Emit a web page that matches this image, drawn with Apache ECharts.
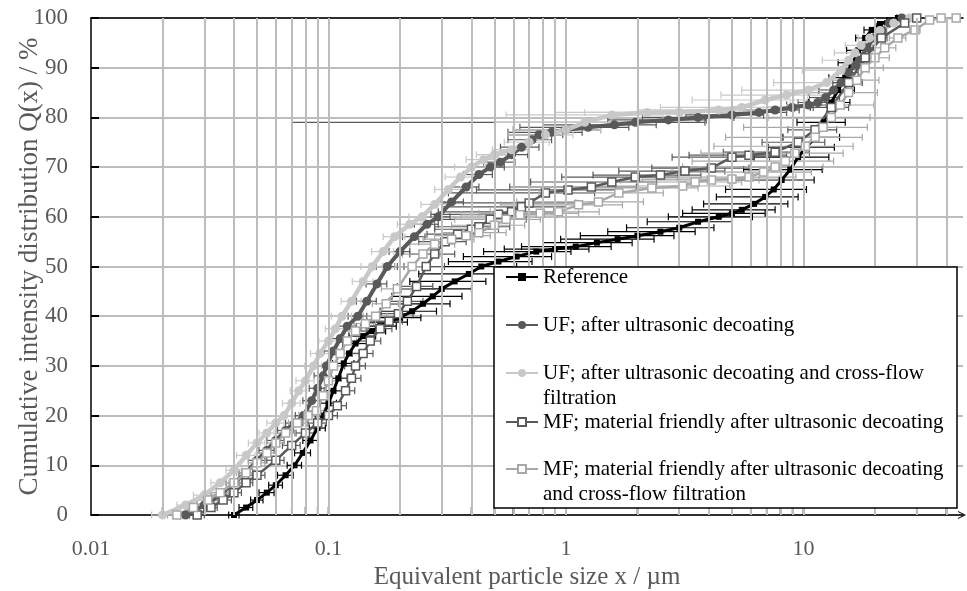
<!DOCTYPE html>
<html>
<head>
<meta charset="utf-8">
<script src="https://cdn.jsdelivr.net/npm/echarts@6/dist/echarts.min.js"></script>
<style>html,body{margin:0;padding:0;background:#fff}#chart{width:967px;height:591px}</style>
</head>
<body>
<div id="chart"></div>
<script>
// ---------- data ----------
const seriesNames = [
  'Reference',
  'UF; after ultrasonic decoating',
  'UF; after ultrasonic decoating and cross-flow filtration',
  'MF; material friendly after ultrasonic decoating',
  'MF; material friendly after ultrasonic decoating and cross-flow filtration'
];
const legendLabels = [
  'Reference',
  'UF; after ultrasonic decoating',
  'UF; after ultrasonic decoating and cross-flow\nfiltration',
  'MF; material friendly after ultrasonic decoating',
  'MF; material friendly after ultrasonic decoating\nand cross-flow filtration'
];
const xTickLabels = ['0.01', '0.1', '1', '10'];
const yTicks = [0, 10, 20, 30, 40, 50, 60, 70, 80, 90, 100];
const xGridValues = [0.02,0.03,0.04,0.05,0.06,0.07,0.08,0.09,0.1,0.2,0.3,0.4,0.5,0.6,0.7,0.8,0.9,1,2,3,4,5,6,7,8,9,10,20,30,40];

// Reference
const refX = [0.040,0.045,0.050,0.055,0.060, 0.066,0.072,0.078,0.084,0.090, 0.095,0.100,0.105,0.110,0.116, 0.122,0.130,0.140,0.152,0.165, 0.180,0.200,0.225,0.250,0.275, 0.300,0.340,0.390,0.440,0.520, 0.620,0.750,0.900,1.10,1.35, 1.65,2.00,2.50,3.00,3.60, 4.40,5.00,5.50,6.20,6.90, 7.50,8.10,8.80,9.50,10.3, 11.2,12.2,13.1,14.0,15.0, 16.0,17.0,18.2,19.4,21.0, 23.0,25.0];
const refY = [0,1.5,3,4.5,6, 8,10,12.5,15,17.5, 20,22.5,25,27.5,30.5, 32.5,34.5,36,37,38, 38.8,39.7,41,42.5,44, 45.5,47,48.5,50,51, 52,53,53.5,54,54.8, 55.5,56.2,57,57.8,59, 60,60.7,61.4,62.6,64, 65.5,67.4,69.5,72,74, 76,79,83,85.5,88, 91,93.5,96,97.6,98.8, 99.5,100];
const refErr = [0.002,0.003,0.003,0.004,0.004, 0.005,0.005,0.006,0.006,0.007, 0.007,0.008,0.009,0.01,0.012, 0.013,0.015,0.018,0.022,0.028, 0.035,0.045,0.06,0.075,0.09, 0.1,0.12,0.15,0.18,0.2, 0.25,0.3,0.35,0.45,0.55, 0.7,0.85,1.0,1.2,1.4, 1.7,1.9,2.1,2.4,2.6, 2.8,3.0,3.2,3.3,3.2, 3.0,2.8,2.6,2.4,2.2, 2.0,1.8,1.6,1.4,1.0, 0.6,0.3];

// UF; after ultrasonic decoating
const ufX = [0.025,0.030,0.035,0.040,0.045, 0.050,0.055,0.060,0.066,0.072, 0.0785,0.085,0.090,0.095,0.098, 0.105,0.112,0.120,0.133,0.145, 0.160,0.177,0.200,0.230,0.260, 0.290,0.330,0.380,0.430,0.480, 0.530,0.590,0.650,0.720,0.770, 0.870,1.00,1.24,1.60,1.96, 2.70,3.60,5.00,6.50,7.60, 9.00,10.5,11.5,12.4,13.4, 14.4,15.5,16.5,17.2,18.5, 19.8,21.5,23.0,26.0];
const ufY = [0,2,4,6.5,8.5, 11,13,15,17,18.5, 20,23,25.5,28,30, 33,35.5,38,40,43, 46.5,50,53,56,58.5, 60,63,66,68.5,70, 71,72.5,74,75.5,76.5, 77,77.5,78,78.5,79, 79.5,80,80.5,81,81.5, 82,82.5,83,84,85.5, 87,89,90.5,91.5,94, 96,97.5,99,100];
const ufErr = [0.002,0.002,0.003,0.003,0.003, 0.004,0.004,0.005,0.005,0.006, 0.006,0.007,0.007,0.008,0.008, 0.009,0.01,0.011,0.012,0.014, 0.016,0.018,0.02,0.025,0.03, 0.035,0.04,0.05,0.06,0.07, 0.08,0.1,0.12,0.15,0.2, 0.3,0.4,0.6,0.8,1.89, 1.2,1.5,1.8,2.0,2.0, 2.0,2.0,2.0,1.8,1.8, 1.6,1.5,1.4,1.3,1.2, 1.0,0.8,0.6,0.3];

// UF; after ultrasonic decoating and cross-flow filtration
const ufcfX = [0.020,0.025,0.030,0.035,0.040, 0.045,0.050,0.055,0.060,0.065, 0.070,0.075,0.080,0.0865,0.092, 0.100,0.107,0.114,0.125,0.140, 0.153,0.170,0.190,0.220,0.248, 0.280,0.320,0.360,0.400,0.450, 0.500,0.590,0.700,0.820,1.00, 1.20,1.56,2.20,3.00,4.40, 5.50,6.90,8.50,10.5,12.5, 14.4,15.5,16.5,17.5,19.0, 21.0,24.0,28.0];
const ufcfY = [0,2,4,6.5,9, 12,14.5,16.5,18.5,20, 22.5,25,27,30,32.5, 35,37.5,40,43,47, 50,53,56,58.5,60, 62.5,65.5,68,70,71.5, 72.5,73.5,75,76.5,77.5, 79,80.5,81,81,81.5, 82,83.5,84.5,85.5,87, 89.5,91.5,93,94.5,96, 97.5,99,100];
const ufcfErr = [0.002,0.002,0.003,0.003,0.003, 0.004,0.004,0.004,0.005,0.005, 0.006,0.006,0.007,0.007,0.008, 0.009,0.01,0.011,0.012,0.014, 0.016,0.018,0.02,0.025,0.03, 0.035,0.04,0.05,0.06,0.07, 0.08,0.1,0.15,0.25,0.4, 0.7,1.0,1.3,1.8,2.4, 3.0,3.5,4.0,5.0,5.0, 4.5,3.5,3.0,2.5,2.0, 1.5,1.0,0.5];

// MF; material friendly after ultrasonic decoating
const mfX = [0.028,0.032,0.036,0.040,0.045, 0.050,0.060,0.070,0.080,0.090, 0.100,0.109,0.118,0.125,0.130, 0.140,0.150,0.165,0.180,0.197, 0.215,0.235,0.258,0.280,0.310, 0.350,0.400,0.430,0.480,0.520, 0.590,0.650,0.700,0.820,1.02, 1.28,1.56,1.96,2.50,3.17, 4.10,5.00,5.90,7.60,9.50, 11.2,13.1,15.5,18.2,21.3, 26.7,30.0];
const mfY = [0,1.5,3,4.5,6.5, 8,11,14,16.5,18.5, 20,22,25,27.5,30, 32.5,35,37.5,39,40.5, 43,46,50,52.5,55, 56.5,57.5,58,59.5,60.5, 61,62,62.8,64.8,65.4, 66,67,68,68.4,69.2, 69.8,72,72.4,73,75, 77.5,82,87,92,96, 99,100];
const mfErr = [0.002,0.002,0.003,0.003,0.003, 0.004,0.005,0.006,0.007,0.008, 0.009,0.01,0.011,0.012,0.013, 0.014,0.016,0.02,0.025,0.03, 0.035,0.04,0.05,0.06,0.07, 0.09,0.12,0.15,0.2,0.25, 0.3,0.35,0.4,0.5,0.6, 0.7,0.85,1.0,1.2,1.5, 1.8,2.2,2.6,3.0,2.8, 2.6,2.4,2.2,1.8,1.2, 0.6,0.3];

// MF; material friendly after ultrasonic decoating and cross-flow filtration
const mfcfX = [0.023,0.027,0.031,0.035,0.040, 0.045,0.050,0.055,0.060,0.066, 0.074,0.082,0.089,0.095,0.100, 0.105,0.112,0.120,0.130,0.143, 0.158,0.175,0.195,0.225,0.250, 0.280,0.330,0.380,0.430,0.500, 0.560,0.640,0.780,0.930,1.13, 1.37,1.67,2.30,3.10,3.50, 4.10,5.00,5.90,6.80,7.60, 8.40,9.20,10.2,11.2,12.1, 13.1,14.3,15.5,16.8,18.2, 20.0,22.0,25.0,29.5,34.0, 38.0,44.0];
const mfcfY = [0,1.5,3,4.5,6.5, 8.5,10.5,12.5,14.5,16.5, 18.5,20,21,24,27, 30,32.5,35,37,38.5, 40,42.5,45.5,50,52.5, 54.5,55.5,56.2,56.8,58.3, 59.5,60.4,60.7,61,62.4, 63,64.8,65.8,66.2,67, 67.4,67.6,68,69,70, 71.2,72.8,74.2,76,78, 80,82.5,85,87.5,90, 92,94,96,97.6,99.6, 100,100];
const mfcfErr = [0.002,0.002,0.003,0.003,0.003, 0.004,0.004,0.005,0.005,0.006, 0.006,0.007,0.007,0.008,0.008, 0.009,0.01,0.011,0.013,0.015, 0.018,0.022,0.028,0.035,0.045, 0.06,0.08,0.1,0.13,0.17, 0.22,0.28,0.35,0.45,0.6, 0.75,0.9,1.3,1.8,2.0, 2.4,2.9,3.4,4.0,4.5, 5.0,5.5,6.0,6.5,6.5, 6.0,5.5,5.0,4.0,3.5, 3.0,2.5,2.0,1.5,1.0, 0.5,0.3];

// ---------- styling ----------
const FONT = "'Liberation Serif', 'DejaVu Serif', serif";
const GRAY_TXT = '#595959';
const GRID_COLOR = '#bdbdbd';

const seriesDefs = [
  {x: refX, y: refY, e: refErr, line: '#000000', fill: '#000000', border: '#000000', symbol: 'rect', size: 6, lw: 3},
  {x: ufX, y: ufY, e: ufErr, line: '#595959', fill: '#595959', border: '#595959', symbol: 'circle', size: 9, lw: 4},
  {x: ufcfX, y: ufcfY, e: ufcfErr, line: '#c8c8c8', fill: '#c8c8c8', border: '#c8c8c8', symbol: 'circle', size: 9, lw: 4.5},
  {x: mfX, y: mfY, e: mfErr, line: '#595959', fill: '#ffffff', border: '#595959', symbol: 'rect', size: 8, lw: 2.5},
  {x: mfcfX, y: mfcfY, e: mfcfErr, line: '#a8a8a8', fill: '#ffffff', border: '#a8a8a8', symbol: 'rect', size: 8, lw: 2.5}
];

function errRender(color) {
  return function (params, api) {
    const y = api.value(2);
    const p1 = api.coord([api.value(0), y]);
    const p2 = api.coord([api.value(1), y]);
    const h = 3.5;
    const style = {stroke: color, lineWidth: 1.2};
    return {type: 'group', children: [
      {type: 'line', shape: {x1: p1[0], y1: p1[1], x2: p2[0], y2: p2[1]}, style: style},
      {type: 'line', shape: {x1: p1[0], y1: p1[1] - h, x2: p1[0], y2: p1[1] + h}, style: style},
      {type: 'line', shape: {x1: p2[0], y1: p2[1] - h, x2: p2[0], y2: p2[1] + h}, style: style}
    ]};
  };
}

const series = [];
// vertical log grid lines and x-axis ticks
series.push({
  type: 'scatter', name: '_grid', silent: true, z: 1, clip: false,
  symbol: 'rect', symbolSize: [1.5, 8], symbolOffset: [0, -4],
  itemStyle: {color: '#000'},
  data: xGridValues.map(v => [v, 0]),
  markLine: {
    silent: true, symbol: ['none', 'none'], label: {show: false},
    lineStyle: {color: GRID_COLOR, width: 2, type: 'solid'},
    emphasis: {disabled: true},
    data: xGridValues.map(v => ({xAxis: v}))
  }
});

seriesDefs.forEach((d, i) => {
  series.push({
    type: 'custom', name: seriesNames[i] + ' (error)', z: 2, silent: true,
    renderItem: errRender(d.line),
    encode: {x: [0, 1], y: 2},
    data: d.x.map((v, k) => [v - d.e[k], v + d.e[k], d.y[k]])
  });
  series.push({
    type: 'line', name: seriesNames[i], z: 2,
    data: d.x.map((v, k) => [v, d.y[k]]),
    symbol: d.symbol, symbolSize: d.size, showSymbol: true, showAllSymbol: true,
    lineStyle: {color: d.line, width: d.lw},
    itemStyle: {color: d.fill, borderColor: d.border, borderWidth: d.fill === '#ffffff' ? 1.5 : 0},
    emphasis: {disabled: true}
  });
});

const L = 25;
const legendCenters = [277, 325, 373, 422, 469];
const legends = seriesNames.map((n, i) => {
  const two = legendLabels[i].indexOf('\n') >= 0;
  return {
    data: [n], left: 505, top: two ? legendCenters[i] - 1.5 * L : legendCenters[i] - L / 2,
    orient: 'vertical', padding: 0, itemGap: 0, itemWidth: 32, itemHeight: 10,
    selectedMode: false, z: 60,
    lineStyle: {width: 2},
    // a leading empty line keeps the icon level with the first text line
    formatter: function () { return two ? '\n' + legendLabels[i] : legendLabels[i]; },
    textStyle: {fontFamily: FONT, fontSize: 21, color: '#000', lineHeight: L}
  };
});

const option = {
  animation: false,
  backgroundColor: '#ffffff',
  textStyle: {fontFamily: FONT},
  grid: {left: 91, top: 18, right: 4, bottom: 76, outerBoundsMode: 'none'},
  xAxis: [{
    type: 'log', logBase: 10, min: 0.01, max: 47,
    name: 'Equivalent particle size x / µm', nameLocation: 'middle', nameGap: 50, nameMoveOverlap: false,
    nameTextStyle: {fontFamily: FONT, fontSize: 25, color: GRAY_TXT},
    axisLine: {show: true, lineStyle: {color: '#000', width: 1.5},
      symbol: ['none', 'path://M0,10 L5,0 L10,10 L8.6,10 L5,2.8 L1.4,10 Z'], symbolSize: [12, 8], symbolOffset: [0, -1]},
    axisTick: {show: false},
    splitLine: {show: false},
    axisLabel: {
      margin: 23, fontFamily: FONT, fontSize: 22, color: GRAY_TXT,
      formatter: function (v) {
        const lg = Math.log10(v);
        const r = Math.round(lg);
        if (Math.abs(lg - r) < 1e-6 && r >= -2 && r <= 1) return xTickLabels[r + 2];
        return '';
      }
    }
  }, {
    type: 'value', position: 'top', min: 0, max: 1,
    axisLine: {show: true, lineStyle: {color: '#000', width: 1.5}},
    axisTick: {show: false}, axisLabel: {show: false}, splitLine: {show: false}
  }],
  yAxis: {
    type: 'value', min: yTicks[0], max: yTicks[yTicks.length - 1], interval: 10,
    name: 'Cumulative intensity distribution Q(x) / %', nameLocation: 'middle', nameGap: 48, nameMoveOverlap: false,
    nameTextStyle: {fontFamily: FONT, fontSize: 27, color: GRAY_TXT},
    axisLine: {show: true, lineStyle: {color: '#000', width: 1.5}},
    axisTick: {show: true, inside: true, length: 8, lineStyle: {color: '#000', width: 2}},
    splitLine: {show: true, lineStyle: {color: GRID_COLOR, width: 2}},
    axisLabel: {margin: 23, fontFamily: FONT, fontSize: 23, color: GRAY_TXT}
  },
  legend: legends,
  graphic: {z: 50, elements: [{
    type: 'rect', z: 50, silent: true,
    shape: {x: 494, y: 267, width: 463, height: 241},
    style: {fill: '#ffffff', stroke: '#000000', lineWidth: 1.5}
  }]},
  series: series
};

const chart = echarts.init(document.getElementById('chart'), null, {renderer: 'canvas'});
chart.setOption(option);
</script>
</body>
</html>
